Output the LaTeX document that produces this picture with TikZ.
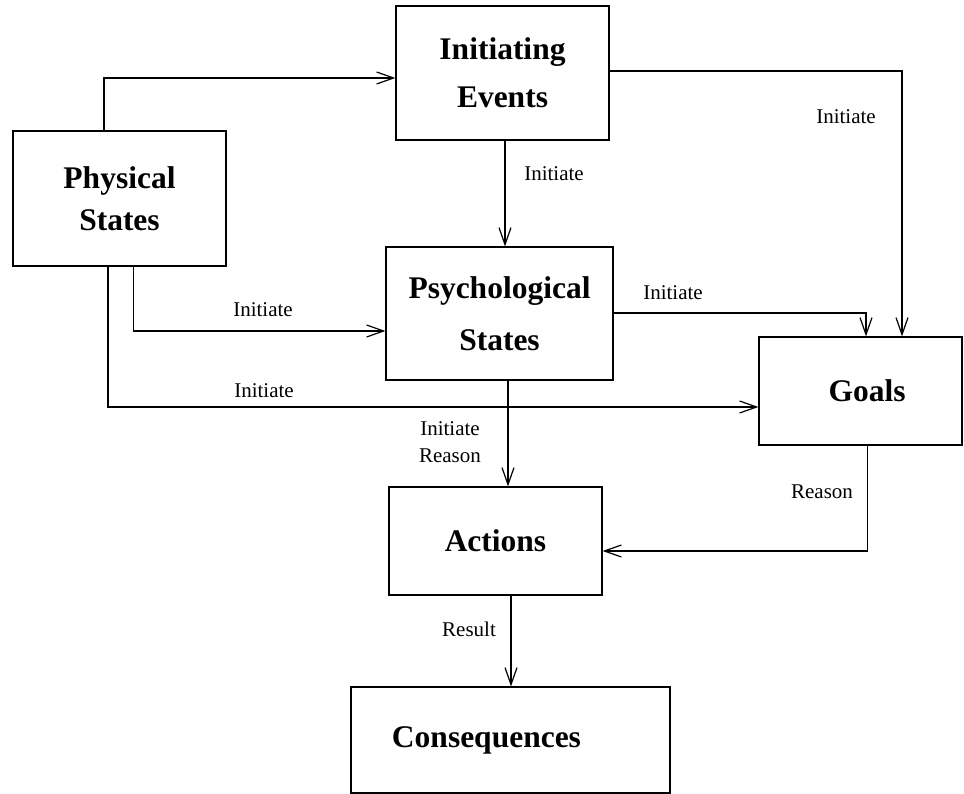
\documentclass[tikz,border=0pt]{standalone}
\usepackage{fontspec}
\setmainfont{Liberation Serif}
\usetikzlibrary{arrows.meta}
\begin{document}
\begin{tikzpicture}[x=1pt,y=-1pt,
  box/.style={draw,line width=1.2pt,inner sep=0pt,align=center,font=\fontsize{31.5}{48}\selectfont\bfseries},
  lab/.style={font=\fontsize{21}{26}\selectfont,inner sep=0pt},
  arr/.style={line width=1.2pt,-{Straight Barb[length=17pt,width=12pt,line width=1.2pt]}}]
\useasboundingbox (0,0) rectangle (964,794);
% boxes
\node[box,minimum width=213pt,minimum height=134pt] (ie) at (502.5,73) {Initiating\\Events};
\node[box,minimum width=213pt,minimum height=135pt,font=\fontsize{31.5}{42}\selectfont\bfseries] (phys) at (119.5,198.5) {Physical\\States};
\node[box,minimum width=227pt,minimum height=133pt,font=\fontsize{31.5}{52}\selectfont\bfseries] (psych) at (499.5,313.5) {Psychological\\States};
\node[box,minimum width=203pt,minimum height=108pt] (goals) at (860.5,391) {\hspace*{13pt}Goals};
\node[box,minimum width=213pt,minimum height=108pt] (act) at (495.5,541) {Actions};
\node[box,minimum width=319pt,minimum height=106pt] (cons) at (510.5,740) {\hspace*{-48pt}Consequences};
% connectors
\draw[arr] ([xshift=-15.5pt]phys.north) |- ([yshift=-5pt]ie.west);
\draw[arr] ([xshift=2.5pt]ie.south) -- ([xshift=2.5pt]ie.south |- psych.north);
\draw[arr] ([yshift=2pt]ie.east) -| ([xshift=41.5pt]goals.north);
\draw[arr] ([yshift=0.5pt]psych.east) -| ([xshift=5.5pt]goals.north);
\draw[arr] ([xshift=14pt]phys.south) |- ([yshift=-17.5pt]psych.west);
\draw[arr] ([xshift=-11.5pt]phys.south) |- ([yshift=-16pt]goals.west);
\draw[arr] ([xshift=8.5pt]psych.south) -- ([xshift=8.5pt]psych.south |- act.north);
\draw[arr] ([xshift=7pt]goals.south) |- ([yshift=-10pt]act.east);
\draw[arr] ([xshift=15.5pt]act.south) -- ([xshift=15.5pt]act.south |- cons.north);
% labels
\node[lab] (l1) at (554,174) {Initiate};
\node[lab] (l2) at (846,117) {Initiate};
\node[lab] (l3) at (673,293) {Initiate};
\node[lab] (l4) at (263,310) {Initiate};
\node[lab] (l5) at (264,391) {Initiate};
\node[lab] (l6) at (450,429) {Initiate};
\node[lab] (l7) at (450,456) {Reason};
\node[lab] (l8) at (822,492) {Reason};
\node[lab] (l9) at (469,629) {Result};
\end{tikzpicture}
\end{document}
